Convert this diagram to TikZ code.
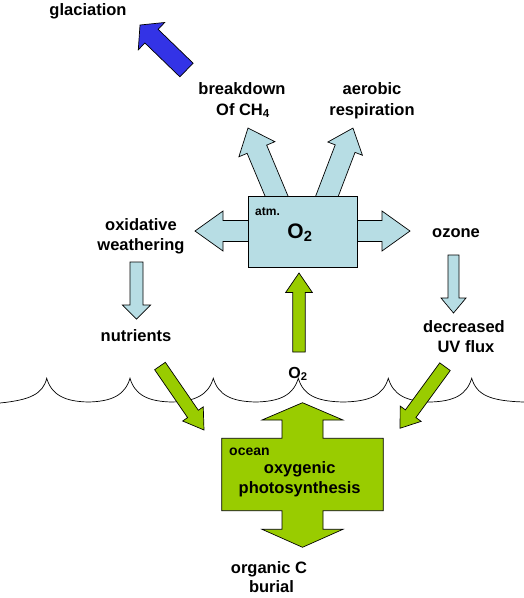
\documentclass[tikz,border=0pt]{standalone}
\usepackage{fontspec}
\setmainfont{Liberation Sans}
\definecolor{lblue}{RGB}{183,221,228}
\definecolor{lgreen}{RGB}{153,204,0}
\definecolor{dblue}{RGB}{51,51,230}
% block arrow: #1 fill, (#2,#3) start, (#4,#5) tip, #6 shaft half width, #7 head half width, #8 head length
\newcommand\blockarrow[8]{%
  \pgfmathsetmacro\bAng{atan2(#3-#5,#4-#2)}%
  \pgfmathsetmacro\bLen{veclen(#4-#2,#5-#3)}%
  \pgfmathsetmacro\bSh{\bLen-#8}%
  \begin{scope}[shift={(#2,#3)}, rotate=\bAng]
    \draw[shapeline, fill=#1] (0,-#6) -- (\bSh,-#6) -- (\bSh,-#7) -- (\bLen,0) -- (\bSh,#7) -- (\bSh,#6) -- (0,#6) -- cycle;
  \end{scope}}
\tikzset{
  shapeline/.style={draw=black, line width=0.7pt, line join=miter},
  waveline/.style={draw=black, line width=0.7pt},
  lbl/.style={font=\fontsize{16.5}{20}\bfseries\selectfont, inner sep=0pt, anchor=base},
  smalllbl/.style={font=\fontsize{12}{14}\bfseries\selectfont, inner sep=0pt, anchor=base west},
  oceanlbl/.style={font=\fontsize{14}{17}\bfseries\selectfont, inner sep=0pt, anchor=base west},
  biglbl/.style={font=\fontsize{21}{25}\bfseries\selectfont, inner sep=0pt, anchor=base},
}
\begin{document}
\begin{tikzpicture}[x=1pt,y=-1pt]
\useasboundingbox (0,0) rectangle (524,598);
% sea surface
\draw[waveline] (0,403) .. controls (30,400) and (43,394) .. (46.7,378.3)
  .. controls (51.7,395) and (64.7,401.5) .. (88.3,402) .. controls (112,401.5) and (125,395) .. (130,378.3)
  .. controls (135,395) and (148,401.5) .. (171.7,402) .. controls (195.3,401.5) and (208.3,395) .. (213.3,378.3)
  .. controls (218.3,395) and (231.3,401.5) .. (255.8,402) .. controls (280.3,401.5) and (293.3,395) .. (298.3,378.3)
  .. controls (303.3,395) and (316.3,401.5) .. (343.3,402) .. controls (370.3,401.5) and (383.3,395) .. (388.3,378.3)
  .. controls (393.3,395) and (406.3,401.5) .. (430,402) .. controls (453.7,401.5) and (466.7,395) .. (471.7,378.3)
  .. controls (476.7,395) and (490,401) .. (524,402);
% atmosphere arrows
\blockarrow{dblue}{186.5}{70}{140}{25}{9.5}{19}{16}
\blockarrow{lblue}{278.8}{201.5}{248}{128}{10.6}{19.5}{23}
\blockarrow{lblue}{324.9}{201.6}{353}{128}{10.6}{18.5}{22}
\blockarrow{lblue}{255}{231}{195}{231}{10.5}{20}{28}
\blockarrow{lblue}{350}{231}{410}{231}{10.5}{20}{28}
\blockarrow{lblue}{453.5}{255}{453.5}{313}{5.5}{12.5}{15}
\blockarrow{lblue}{136.5}{262}{136.5}{319}{6.5}{14}{14}
% atm O2 box
\draw[shapeline, fill=lblue] (248,196) rectangle (357,267);
% green arrows
\blockarrow{lgreen}{299}{352}{299}{273}{6.2}{13.3}{19.4}
\blockarrow{lgreen}{160}{366}{204}{430}{6.5}{12.5}{19.5}
\blockarrow{lgreen}{445}{366.7}{400}{428.3}{6.5}{13}{18}
% ocean shape
\draw[shapeline, fill=lgreen] (221.7,438.3) -- (282,438.3) -- (282,420) -- (262,420) -- (302.5,402.7)
  -- (343,420) -- (323,420) -- (323,438.3) -- (383.3,438.3) -- (383.3,510.7) -- (323,510.7)
  -- (323,529.3) -- (343,529.3) -- (302.5,547.3) -- (262,529.3) -- (282,529.3) -- (282,510.7)
  -- (221.7,510.7) -- cycle;
% labels
\node[lbl] (glac) at (88,15.5) {glaciation};
\node[lbl] (brk1) at (242,94.5) {breakdown};
\node[lbl] (brk2) at (243,115) {Of CH\textsubscript{4}};
\node[lbl] (aer1) at (372,94.5) {aerobic};
\node[lbl] (aer2) at (372,115) {respiration};
\node[lbl] (oxw1) at (141,230) {oxidative};
\node[lbl] (oxw2) at (141,250) {weathering};
\node[lbl] (ozo) at (456,237) {ozone};
\node[lbl] (uv1) at (464,332.5) {decreased};
\node[lbl] (uv2) at (466,352) {UV flux};
\node[lbl] (nut) at (136,341.5) {nutrients};
\node[lbl, font=\fontsize{16}{19}\bfseries\selectfont] (o2low) at (298,378) {O\textsubscript{2}};
\node[lbl] (orgc1) at (269,573) {organic C};
\node[lbl] (orgc2) at (271.5,592) {burial};
\node[smalllbl] (atm) at (255,215) {atm.};
\node[biglbl] (o2atm) at (300,238) {O\textsubscript{2}};
\node[oceanlbl] (ocean) at (229,455.7) {ocean};
\node[lbl] (oxy1) at (299.7,473.5) {oxygenic};
\node[lbl] (oxy2) at (299.7,493.3) {photosynthesis};
\end{tikzpicture}
\end{document}
